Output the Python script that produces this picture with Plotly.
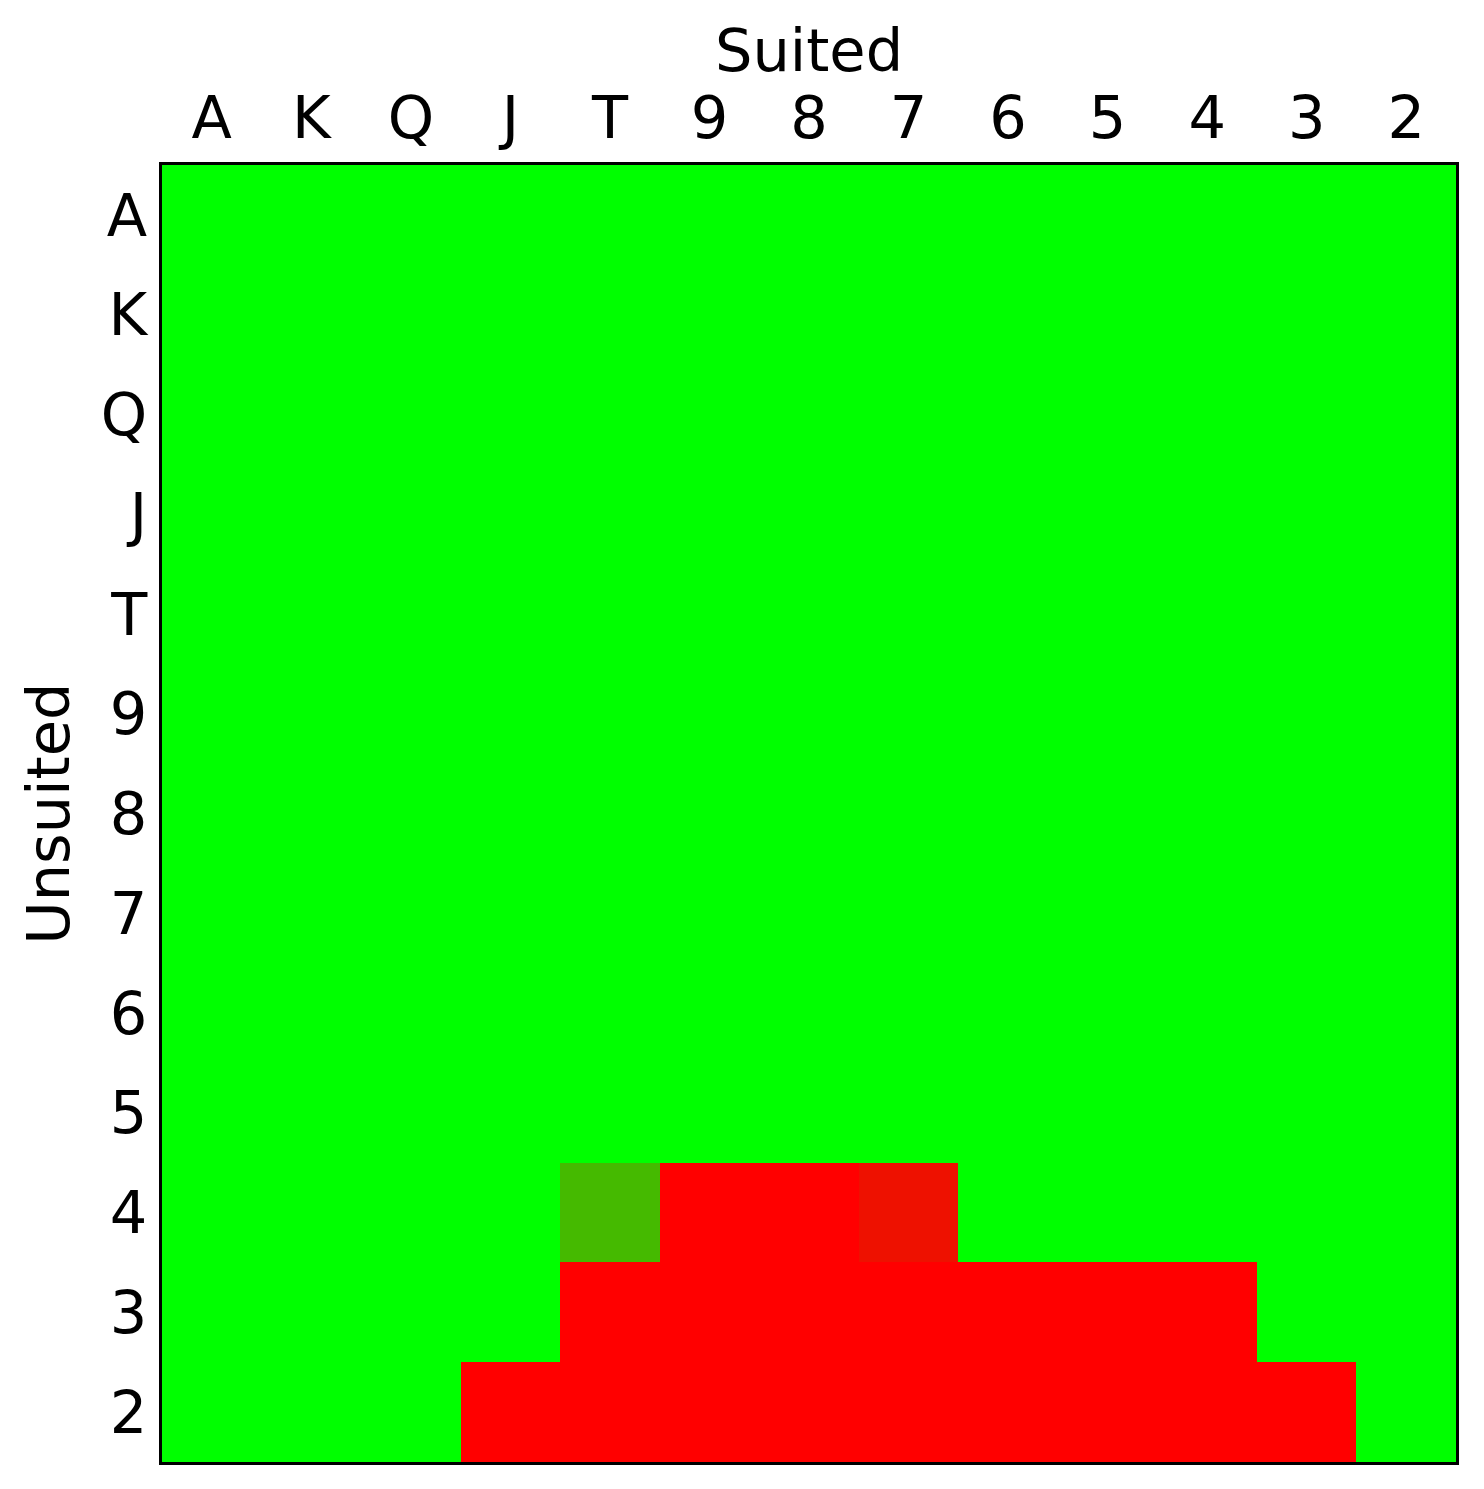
import plotly.graph_objects as go

ranks = ["A", "K", "Q", "J", "T", "9", "8", "7", "6", "5", "4", "3", "2"]

# value in [0,1]: 0 = red, 1 = green (rows = unsuited rank, columns = suited rank)
row_A = [1]*13
row_K = [1]*13
row_Q = [1]*13
row_J = [1]*13
row_T = [1]*13
row_9 = [1]*13
row_8 = [1]*13
row_7 = [1]*13
row_6 = [1]*13
row_5 = [1]*13
row_4 = [1, 1, 1, 1, 0.73, 0, 0, 0.067, 1, 1, 1, 1, 1]
row_3 = [1, 1, 1, 1, 0, 0, 0, 0, 0, 0, 0, 1, 1]
row_2 = [1, 1, 1, 0, 0, 0, 0, 0, 0, 0, 0, 0, 1]

z = [row_A, row_K, row_Q, row_J, row_T, row_9, row_8, row_7,
     row_6, row_5, row_4, row_3, row_2]

fig = go.Figure(go.Heatmap(
    z=z, x=ranks, y=ranks,
    zmin=0, zmax=1,
    colorscale=[[0, "#ff0000"], [1, "#00ff00"]],
    showscale=False,
))

font = dict(family="DejaVu Sans", size=59, color="black")

fig.update_layout(
    width=1484, height=1489,
    margin=dict(l=154, r=36, t=157, b=35),
    paper_bgcolor="white", plot_bgcolor="white",
    font=font,
)
fig.update_xaxes(
    side="top", type="category", categoryorder="array", categoryarray=ranks,
    showline=True, linecolor="black", linewidth=3, mirror=True,
    showgrid=False, zeroline=False, ticks="",
    tickfont=font,
)
fig.update_yaxes(
    type="category", categoryorder="array", categoryarray=ranks,
    autorange="reversed",
    showline=True, linecolor="black", linewidth=3, mirror=True,
    showgrid=False, zeroline=False, ticks="",
    tickfont=font,
    title=dict(text="Unsuited", font=font, standoff=13),
)
fig.add_annotation(
    text="Suited", x=0.5, xref="paper", y=1, yref="paper",
    xanchor="center", yanchor="bottom", yshift=78, showarrow=False, font=font,
)

fig.write_html("out.html")
